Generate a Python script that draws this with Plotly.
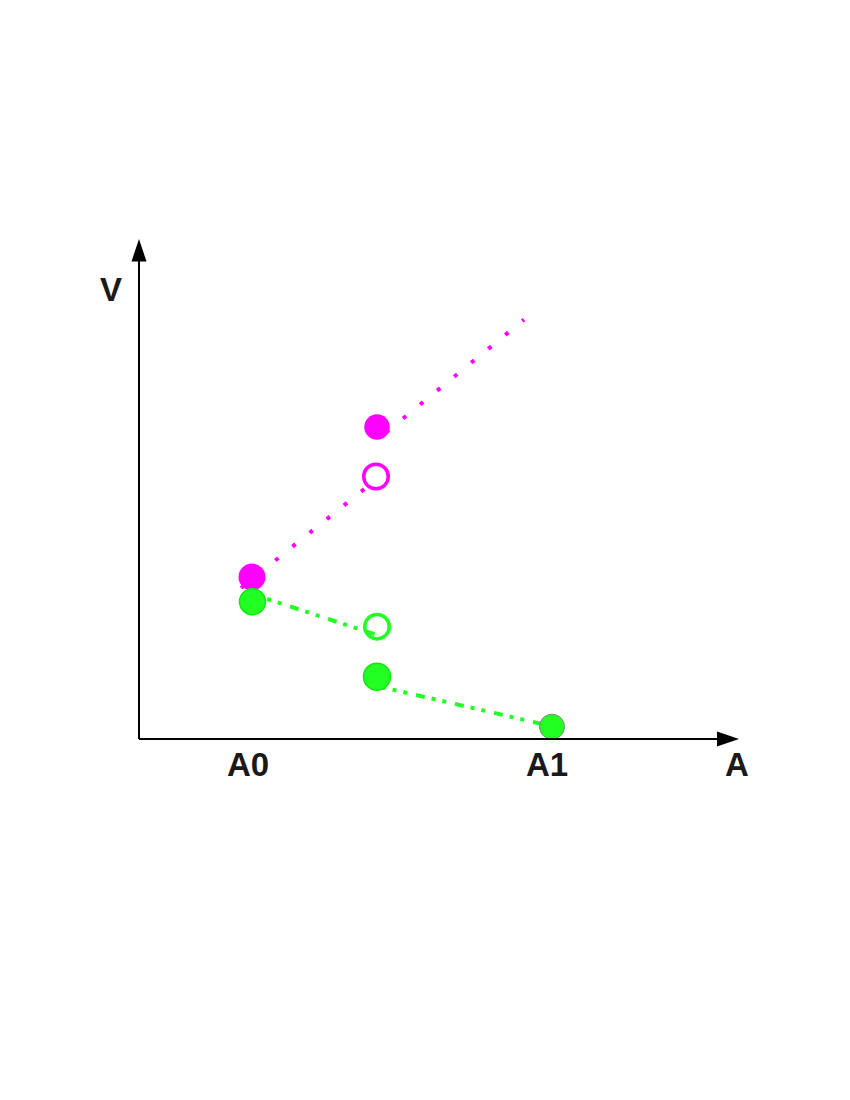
import plotly.graph_objects as go

# ---- data (arbitrary units: x in [0,6], y in [0,5]) ----
x_tick_vals = [1.13, 4.12]
x_tick_text = ["A0", "A1"]

# magenta (dotted) piecewise line
mag_seg1_x = [1.02, 2.39]
mag_seg1_y = [1.51, 2.61]
mag_seg2_x = [2.47, 3.85]
mag_seg2_y = [3.066, 4.194]
mag_filled_x = [1.13, 2.38]
mag_filled_y = [1.62, 3.12]
mag_open_x = [2.37]
mag_open_y = [2.625]

# green (dash-dot-dot) piecewise line
grn_seg1_x = [1.13, 2.38]
grn_seg1_y = [1.45, 1.04]
grn_seg2_x = [2.38, 4.12]
grn_seg2_y = [0.53, 0.13]
grn_filled_x = [1.135, 2.38]
grn_filled_y = [1.373, 0.623]
grn_end_x = [4.13]
grn_end_y = [0.123]
grn_open_x = [2.38]
grn_open_y = [1.123]

MAG = "#ff00ff"
GRN = "#22ff22"
MAG_DASH = "4px,18px"
GRN_DASH = "9px,7px,4px,7px,4px,9px"

fig = go.Figure()

# lines
for xs, ys in [(mag_seg1_x, mag_seg1_y), (mag_seg2_x, mag_seg2_y)]:
    fig.add_trace(go.Scatter(x=xs, y=ys, mode="lines",
                             line=dict(color=MAG, width=4, dash=MAG_DASH),
                             hoverinfo="skip", showlegend=False))
for xs, ys in [(grn_seg1_x, grn_seg1_y), (grn_seg2_x, grn_seg2_y)]:
    fig.add_trace(go.Scatter(x=xs, y=ys, mode="lines",
                             line=dict(color=GRN, width=4, dash=GRN_DASH),
                             hoverinfo="skip", showlegend=False))

# markers
fig.add_trace(go.Scatter(x=mag_filled_x, y=mag_filled_y, mode="markers",
                         marker=dict(size=[27, 25.5], color=MAG, opacity=1, line=dict(width=0)),
                         showlegend=False))
fig.add_trace(go.Scatter(x=mag_open_x, y=mag_open_y, mode="markers",
                         marker=dict(size=24.5, color="rgba(0,0,0,0)", opacity=1,
                                     line=dict(width=3.5, color=MAG)),
                         showlegend=False))
fig.add_trace(go.Scatter(x=grn_filled_x, y=grn_filled_y, mode="markers",
                         marker=dict(size=[26, 27], color=GRN, opacity=1,
                                     line=dict(width=1.5, color="#14e614")),
                         showlegend=False))
fig.add_trace(go.Scatter(x=grn_open_x, y=grn_open_y, mode="markers",
                         marker=dict(size=24.5, color="rgba(0,0,0,0)", opacity=1,
                                     line=dict(width=3.5, color=GRN)),
                         showlegend=False))
fig.add_trace(go.Scatter(x=grn_end_x, y=grn_end_y, mode="markers",
                         marker=dict(size=25, color=GRN, opacity=1,
                                     line=dict(width=1, color="#808080")),
                         showlegend=False))

# axes with arrows
XMAX, YMAX = 6.0, 5.0
shapes = [
    dict(type="line", xref="x", yref="y", x0=0, y0=0, x1=XMAX - 0.2, y1=0,
         line=dict(color="black", width=2)),
    dict(type="line", xref="x", yref="y", x0=0, y0=0, x1=0, y1=YMAX - 0.2,
         line=dict(color="black", width=2)),
    dict(type="path", xref="x", yref="y",
         path=f"M {XMAX} 0 L {XMAX-0.22} 0.075 L {XMAX-0.22} -0.075 Z",
         fillcolor="black", line=dict(width=0)),
    dict(type="path", xref="x", yref="y",
         path=f"M 0 {YMAX} L 0.075 {YMAX-0.225} L -0.075 {YMAX-0.225} Z",
         fillcolor="black", line=dict(width=0)),
]

FONT = dict(family="Liberation Sans, Arial, sans-serif", size=33, color="#1a1a1a", weight="bold")
annotations = []
for v, t in zip(x_tick_vals, x_tick_text):
    annotations.append(dict(x=v - 0.04, y=-0.25, xref="x", yref="y", text=t, showarrow=False,
                            xanchor="center", yanchor="middle", font=FONT))
annotations.append(dict(x=5.98, y=-0.25, xref="x", yref="y", text="A", showarrow=False,
                        xanchor="center", yanchor="middle", font=FONT))
annotations.append(dict(x=-0.285, y=4.5, xref="x", yref="y", text="V", showarrow=False,
                        xanchor="center", yanchor="middle", font=FONT))

# page has an 8px body margin; place the axes so the origin lands at (139, 739) on the page
W, H = 850, 1100
OFF = 8
ox, oy = 139 - OFF, 739 - OFF       # origin in figure pixels
PX = 100                             # pixels per unit
XR = [-1.0, 6.5]
YR = [-1.0, 5.5]
fig.update_layout(
    width=W, height=H,
    margin=dict(l=0, r=0, t=0, b=0),
    paper_bgcolor="white", plot_bgcolor="white",
    xaxis=dict(range=XR, domain=[(ox + XR[0] * PX) / W, (ox + XR[1] * PX) / W],
               visible=False, fixedrange=True),
    yaxis=dict(range=YR, domain=[(H - (oy - YR[0] * PX)) / H, (H - (oy - YR[1] * PX)) / H],
               visible=False, fixedrange=True),
    shapes=shapes, annotations=annotations, showlegend=False,
)

fig.write_html("out.html")
